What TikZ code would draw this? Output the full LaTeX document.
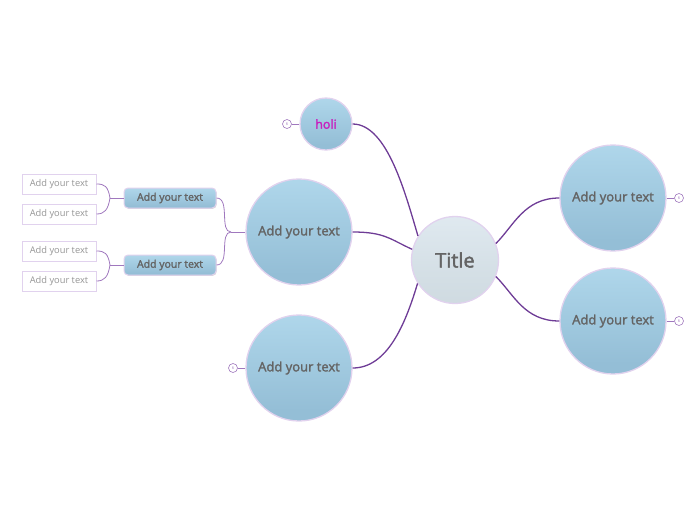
\documentclass[tikz,border=0pt]{standalone}
\usepackage{fontspec}
\setmainfont{Open Sans}
\newfontfamily\medfont[FakeBold=2]{Open Sans}
\usepackage{tikz}
\usetikzlibrary{shadows}
\definecolor{LinkPurple}{RGB}{110,60,150}
\definecolor{ThinPurple}{RGB}{160,120,190}
\definecolor{RimLilac}{RGB}{225,210,238}
\definecolor{TextGrey}{RGB}{100,100,100}
\definecolor{LeafGrey}{RGB}{150,150,150}
\definecolor{HoliPink}{RGB}{200,30,190}
\definecolor{BubTop}{RGB}{190,228,246}
\definecolor{BubMid}{RGB}{148,190,214}
\definecolor{BubLow}{RGB}{170,210,232}
\definecolor{CoreTop}{RGB}{232,241,248}
\definecolor{CoreLow}{RGB}{200,212,218}
\pgfdeclareverticalshading{bubble}{100bp}{color(0bp)=(BubLow); color(12bp)=(BubMid); color(30bp)=(BubMid); color(100bp)=(BubTop)}
\pgfdeclareverticalshading{core}{100bp}{color(0bp)=(CoreLow); color(45bp)=(CoreLow!60!CoreTop); color(100bp)=(CoreTop)}

\begin{document}
\begin{tikzpicture}[x=1pt,y=-1pt,
  bigbub/.style={circle,draw=RimLilac,line width=1.3pt,shading=bubble,minimum size=106pt,inner sep=0pt,text=TextGrey,font=\medfont\fontsize{13}{15}\selectfont},
  pill/.style={rounded corners=4pt,draw=RimLilac,line width=1pt,shading=bubble,minimum width=92pt,minimum height=20pt,inner sep=0pt,text=TextGrey,font=\medfont\fontsize{10.5}{12}\selectfont,drop shadow={shadow xshift=0.6pt,shadow yshift=-0.8pt,opacity=0.35}},
  leaf/.style={draw=RimLilac,line width=1pt,fill=white,minimum width=74pt,minimum height=20pt,inner sep=0pt,text=LeafGrey,font=\fontsize{9.3}{11}\selectfont,drop shadow={shadow xshift=0.8pt,shadow yshift=-1pt,opacity=0.4}},
  fold/.style={circle,draw=ThinPurple,line width=0.6pt,fill=white,minimum size=9pt,inner sep=0pt,font=\fontsize{4}{4}\selectfont,text=ThinPurple},
  link/.style={draw=LinkPurple,line width=1.3pt},
  twig/.style={draw=ThinPurple,line width=0.8pt}]
\useasboundingbox (0,0) rectangle (696,520);

% centre
\node[circle,draw=RimLilac,line width=1.3pt,shading=core,minimum size=87pt,inner sep=0pt,text=TextGrey,font=\medfont\fontsize{20}{22}\selectfont] (title) at (455,260) {Title};

% main topics
\node[circle,draw=RimLilac,line width=1.3pt,shading=bubble,minimum size=52pt,inner sep=0pt,text=HoliPink,font=\medfont\fontsize{12.5}{14}\selectfont] (holi) at (326,124) {holi};
\node[bigbub] (left) at (299,232) {Add your text};
\node[bigbub] (lowleft) at (299,368) {Add your text};
\node[bigbub] (upright) at (613,198) {Add your text};
\node[bigbub] (lowright) at (613,321) {Add your text};

% subtopics
\node[pill] (sub1) at (170,198) {Add your text};
\node[pill] (sub2) at (170,265) {Add your text};
\node[leaf] (leaf1) at (59,184) {Add your text};
\node[leaf] (leaf2) at (59,214) {Add your text};
\node[leaf] (leaf3) at (59,251) {Add your text};
\node[leaf] (leaf4) at (59,281) {Add your text};

% fold markers
\node[fold] (f1) at (287,124) {6};
\node[fold] (f2) at (233,368) {6};
\node[fold] (f3) at (679,198) {6};
\node[fold] (f4) at (679,321) {6};

% links
\draw[link] (holi.east) .. controls +(35,0) and +(-12,-40) .. (title.147);
\draw[link] (left.east) .. controls +(32,0) and +(-22,-10) .. (title.166);
\draw[link] (lowleft.east) .. controls +(35,0) and +(-12,40) .. (title.212);
\draw[link] (title.22) .. controls +(18,-18) and +(-35,0) .. (upright.west);
\draw[link] (title.-22) .. controls +(18,18) and +(-35,0) .. (lowright.west);

\draw[twig] (holi.west) -- (f1);
\draw[twig] (lowleft.west) -- (f2);
\draw[twig] (upright.east) -- (f3);
\draw[twig] (lowright.east) -- (f4);

\coordinate (kL) at (231,232);
\coordinate (k1) at (110,198);
\coordinate (k2) at (110,265);
\draw[twig] (left.west) -- (kL);
\draw[twig] (kL) .. controls +(-12,0) and +(14,0) .. (sub1.east);
\draw[twig] (kL) .. controls +(-12,0) and +(14,0) .. (sub2.east);
\draw[twig] (sub1.west) -- (k1);
\draw[twig] (k1) .. controls +(-2,-12) and +(8,0) .. (leaf1.east);
\draw[twig] (k1) .. controls +(-2,12) and +(8,0) .. (leaf2.east);
\draw[twig] (sub2.west) -- (k2);
\draw[twig] (k2) .. controls +(-2,-12) and +(8,0) .. (leaf3.east);
\draw[twig] (k2) .. controls +(-2,12) and +(8,0) .. (leaf4.east);
\end{tikzpicture}
\end{document}
